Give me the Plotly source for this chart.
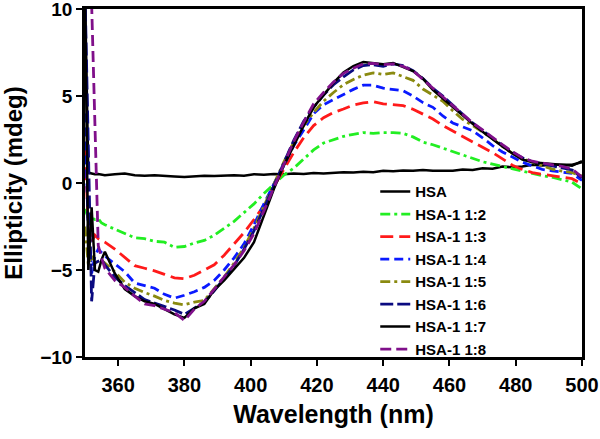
import plotly.graph_objects as go

wavelength = [350, 351, 352, 353, 354, 355, 356, 359, 362, 365, 368, 371, 374, 377, 380,
              383, 386, 389, 392, 395, 398, 401, 404, 407, 410, 413, 416, 419, 422, 425,
              428, 431, 434, 437, 440, 443, 446, 449, 452, 455, 458, 461, 464, 467, 470,
              473, 476, 479, 482, 485, 488, 491, 494, 497, 500]

hsa = [11, 0.6, 0.55, 0.5, 0.52, 0.5, 0.45, 0.5, 0.55, 0.45, 0.42, 0.45, 0.4, 0.38, 0.35,
       0.4, 0.42, 0.4, 0.42, 0.45, 0.42, 0.5, 0.48, 0.52, 0.5, 0.55, 0.52, 0.58, 0.55, 0.6,
       0.62, 0.6, 0.65, 0.62, 0.7, 0.68, 0.72, 0.7, 0.75, 0.7, 0.72, 0.7, 0.78, 0.75, 0.85,
       0.82, 0.95, 0.9, 0.95, 1.05, 1.0, 1.05, 1.05, 1.05, 1.2]

r12 = [-1.5, -2.0, -2.0, -2.1, -2.05, -2.3, -2.4, -2.65, -2.9, -3.15, -3.2, -3.35, -3.4, -3.7, -3.65,
       -3.45, -3.3, -3.0, -2.6, -2.2, -1.7, -1.2, -0.6, -0.05, 0.45, 0.85, 1.35, 1.9, 2.3, 2.5,
       2.68, 2.8, 2.9, 2.85, 2.9, 2.9, 2.85, 2.65, 2.35, 2.2, 2.0, 1.8, 1.6, 1.38, 1.22,
       1.08, 0.95, 0.82, 0.68, 0.52, 0.42, 0.33, 0.2, 0.05, -0.35]

r13 = [2.0, -2.5, -3.4, -3.0, -3.2, -3.3, -3.4, -3.8, -4.3, -4.75, -4.9, -5.05, -5.25, -5.45, -5.5,
       -5.3, -5.0, -4.7, -4.15, -3.5, -2.85, -2.1, -1.3, -0.2, 0.75, 1.75, 2.6, 3.3, 3.75, 4.05,
       4.25, 4.48, 4.6, 4.68, 4.55, 4.52, 4.45, 4.24, 3.95, 3.68, 3.3, 2.98, 2.7, 2.35, 2.05,
       1.75, 1.4, 1.02, 0.78, 0.6, 0.5, 0.43, 0.35, 0.25, -0.05]

r14 = [4.0, -3.0, -5.2, -4.2, -3.8, -4.0, -4.2, -4.65, -5.1, -5.75, -5.92, -6.05, -6.4, -6.62, -6.45,
       -6.25, -6.0, -5.6, -5.0, -4.3, -3.5, -2.4, -1.2, -0.05, 1.0, 2.15, 3.05, 3.98, 4.5, 4.8,
       5.1, 5.38, 5.62, 5.62, 5.45, 5.38, 5.3, 5.0, 4.62, 4.35, 3.85, 3.45, 3.22, 3.0, 2.6,
       2.15, 1.78, 1.5, 1.2, 0.98, 0.78, 0.7, 0.64, 0.55, 0.15]

r15 = [-2.5, -4.7, -4.2, -4.6, -4.5, -4.45, -4.6, -5.1, -5.7, -6.05, -6.3, -6.5, -6.75, -6.9, -7.0,
       -6.85, -6.75, -6.1, -5.4, -4.6, -3.7, -2.6, -1.3, -0.05, 1.2, 2.35, 3.3, 4.05, 4.7, 5.2,
       5.65, 5.95, 6.2, 6.33, 6.24, 6.33, 6.1, 5.9, 5.4, 5.05, 4.7, 4.15, 3.65, 3.3, 2.95,
       2.55, 2.1, 1.7, 1.4, 1.2, 0.98, 0.8, 0.68, 0.6, 0.4]

r16 = [11, 2.0, -6.8, -4.6, -4.5, -4.4, -4.7, -5.4, -5.9, -6.3, -6.7, -6.9, -7.1, -7.3, -7.55,
       -7.2, -6.85, -6.2, -5.5, -4.75, -3.8, -2.75, -1.45, -0.15, 1.2, 2.45, 3.55, 4.35, 5.05, 5.65,
       6.1, 6.5, 6.75, 6.8, 6.7, 6.85, 6.75, 6.45, 6.0, 5.45, 5.0, 4.45, 3.95, 3.45, 3.0,
       2.55, 2.15, 1.75, 1.45, 1.22, 1.1, 1.0, 0.9, 0.75, 0.3]

r17 = [11, -5.0, -1.4, -5.0, -5.1, -4.4, -3.95, -5.2, -6.1, -6.5, -6.8, -6.95, -7.25, -7.55, -7.75,
       -7.2, -6.95, -6.15, -5.6, -4.95, -4.3, -3.4, -1.85, -0.35, 1.0, 2.2, 3.3, 4.35, 5.05, 5.75,
       6.35, 6.72, 6.95, 6.9, 6.82, 6.9, 6.68, 6.43, 6.0, 5.35, 4.85, 4.35, 3.9, 3.4, 2.95,
       2.5, 2.1, 1.7, 1.35, 1.2, 1.15, 1.08, 1.02, 0.99, 1.25]

r18 = [14, 13, 10.3, 2.6, -3.6, -4.3, -4.9, -5.6, -6.0, -6.5, -6.95, -7.05, -7.25, -7.45, -7.9,
       -7.25, -6.8, -6.1, -5.4, -4.7, -3.9, -2.9, -1.6, -0.25, 1.15, 2.4, 3.5, 4.55, 5.2, 5.8,
       6.3, 6.6, 6.85, 6.88, 6.8, 6.85, 6.7, 6.45, 5.95, 5.45, 4.9, 4.45, 3.95, 3.45, 3.05,
       2.6, 2.2, 1.8, 1.45, 1.25, 1.15, 1.05, 0.95, 0.8, 0.35]

names = ["HSA", "HSA-1 1:2", "HSA-1 1:3", "HSA-1 1:4", "HSA-1 1:5",
         "HSA-1 1:6", "HSA-1 1:7", "HSA-1 1:8"]
series = [hsa, r12, r13, r14, r15, r16, r17, r18]
colors = ["#000000", "#22EE22", "#FF1A1A", "#0A1AFF", "#8A8A10",
          "#0A0A80", "#000000", "#80108A"]
dashes = ["solid", "10px,4px,3px,4px", "13px,6px", "9px,5px", "10px,4px,3px,4px",
          "13px,4px", "solid", "11px,5px"]
widths = [2.5, 2.8, 2.8, 2.8, 2.8, 2.8, 2.5, 2.8]

fig = go.Figure()
for nm, ys, c, d, w in zip(names, series, colors, dashes, widths):
    fig.add_trace(go.Scatter(x=wavelength, y=ys, mode="lines", name=nm,
                             line=dict(color=c, dash=d, width=w)))

font_family = "Liberation Sans, Arial, sans-serif"
fig.update_layout(
    width=600, height=439,
    margin=dict(l=85, r=18, t=9, b=82),
    paper_bgcolor="white", plot_bgcolor="white",
    font=dict(family=font_family, color="black", weight="bold"),
    showlegend=True,
    legend=dict(x=0.584, y=0.522, xanchor="left", yanchor="top",
                bgcolor="rgba(0,0,0,0)",
                font=dict(size=15, family=font_family, weight="bold", color="black"),
                tracegroupgap=0),
    xaxis=dict(range=[350, 500], tickvals=[360, 380, 400, 420, 440, 460, 480, 500],
               showline=True, linecolor="black", linewidth=2.5, mirror=True,
               ticks="outside", ticklen=6, tickwidth=2, tickcolor="black",
               showgrid=False, zeroline=False, automargin=False,
               ticklabeloverflow="allow",
               tickfont=dict(size=20, family=font_family, weight="bold"),
               ticklabelstandoff=2,
               title=dict(text="Wavelength (nm)", standoff=11,
                          font=dict(size=25, family=font_family, weight="bold"))),
    yaxis=dict(range=[-10, 10], tickvals=[-10, -5, 0, 5, 10],
               showline=True, linecolor="black", linewidth=2.5, mirror=True,
               ticks="outside", ticklen=6, tickwidth=2, tickcolor="black",
               showgrid=False, zeroline=False, automargin=False,
               ticklabeloverflow="allow",
               tickfont=dict(size=19, family=font_family, weight="bold"),
               title=dict(text="Ellipticity (mdeg)", standoff=14,
                          font=dict(size=24, family=font_family, weight="bold"))),
)

fig.write_html("out.html", config={"displayModeBar": False},
               post_script="document.body.style.margin='0';document.body.style.overflow='hidden';")
